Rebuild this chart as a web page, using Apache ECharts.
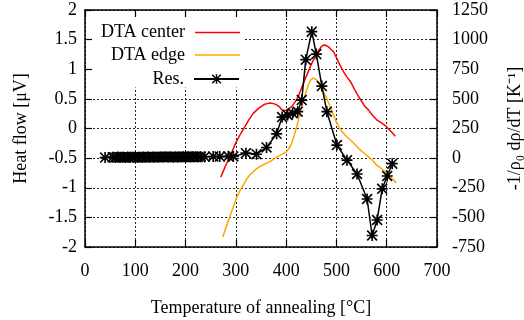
<!DOCTYPE html>
<html>
<head>
<meta charset="utf-8">
<script src="https://cdn.jsdelivr.net/npm/echarts@6/dist/echarts.min.js"></script>
<style>html,body{margin:0;padding:0;background:#fff}#c{width:524px;height:320px}</style>
</head>
<body>
<div id="c"></div>
<script>
// ---- data ----
const xTicks = [0, 100, 200, 300, 400, 500, 600, 700];
const leftTicks = [-2, -1.5, -1, -0.5, 0, 0.5, 1, 1.5, 2];
const rightTicks = [-750, -500, -250, 0, 250, 500, 750, 1000, 1250];

const centerT = [270,275,280,288,295,301,310,318,326,335,345,355,362,368,375,381,386,391,396,400,405,411,418,424,430,437,444,451,458,465,470,475,480,484,490,494,501,507,514,520,528,536,544,550,557,564,572,581,590,597,606,612,617];
const centerV = [-0.82,-0.72,-0.62,-0.48,-0.34,-0.22,-0.08,0.03,0.15,0.26,0.34,0.40,0.42,0.43,0.42,0.40,0.37,0.32,0.30,0.31,0.33,0.37,0.45,0.54,0.67,0.82,0.96,1.10,1.22,1.32,1.38,1.41,1.40,1.38,1.33,1.30,1.18,1.07,0.96,0.88,0.79,0.66,0.54,0.46,0.37,0.31,0.22,0.14,0.09,0.05,-0.03,-0.08,-0.13];

const edgeT = [274,280,288,295,301,308,315,321,328,338,348,358,368,378,388,395,401,406,411,416,421,426,431,437,444,449,454,459,464,469,474,480,487,494,501,507,512,517,527,537,547,557,567,573,580,587,593,600,606,613,619];
const edgeV = [-1.83,-1.68,-1.49,-1.32,-1.18,-1.05,-0.95,-0.86,-0.78,-0.70,-0.64,-0.60,-0.56,-0.50,-0.45,-0.42,-0.39,-0.33,-0.25,-0.12,0.03,0.20,0.37,0.55,0.73,0.82,0.85,0.83,0.79,0.71,0.62,0.52,0.38,0.23,0.09,0.00,-0.06,-0.11,-0.19,-0.27,-0.36,-0.43,-0.50,-0.55,-0.62,-0.66,-0.70,-0.75,-0.81,-0.86,-0.92];

const resT = [40,55,60,65,70,75,80,85,90,95,100,105,110,115,120,125,130,135,140,145,150,155,160,165,170,175,180,185,190,195,200,205,210,215,220,225,230,238,255,268,285,295,320,341,361,381,392,403,413,423,431,439,451,460,471,481,501,521,541,561,571,581,591,601,611];
const resV = [5,8,6,9,7,8,6,9,8,7,9,6,8,10,7,9,8,10,9,8,10,9,11,9,10,8,11,10,9,11,10,12,10,11,12,10,12,12,14,13,15,14,42,33,90,205,346,364,378,392,490,831,1067,878,608,392,110,-17,-134,-345,-653,-522,-259,-151,-47];

const FONT = 'Liberation Serif';
const zip = (a, b) => a.map((t, i) => [t, b[i]]);

const star = 'path://M8.5,0h3v20h-3z M0,8.5h20v3h-20z M2.1,0L20,17.9L17.9,20L0,2.1z M17.9,0L20,2.1L2.1,20L0,17.9z';

const chart = echarts.init(document.getElementById('c'), null, {renderer: 'canvas'});
const txt = {fontFamily: FONT, fontSize: 18, color: '#000'};
const dotted = {type: [2, 2], color: '#222', width: 1};
const blackLine = {color: '#000', width: 1.5};
const plain = v => String(v);

chart.setOption({
  animation: false,
  backgroundColor: '#fff',
  grid: {left: 85, right: 87, top: 10, bottom: 73, containLabel: false, outerBoundsMode: 'none'},
  graphic: [{type: 'rect', z: 1, shape: {x: 86.5, y: 11.5, width: 158, height: 76}, style: {fill: '#fff'}}],
  legend: [
    {data: [{name: 'DTA center', icon: 'rect'}], right: 284, top: 23.5, itemHeight: 1.6},
    {data: [{name: 'DTA edge', icon: 'rect'}], right: 284, top: 46, itemHeight: 1.6},
    {data: ['Res.'], right: 284, top: 70, itemHeight: 12}
  ].map(l => Object.assign({
    orient: 'vertical', align: 'right', itemWidth: 45, padding: 0, itemGap: 0,
    selectedMode: false, z: 5,
    textStyle: Object.assign({padding: [0, 5, 0, 0]}, txt)
  }, l)),
  xAxis: [
    {type: 'value', min: 0, max: 700, interval: 100, position: 'bottom', z: 3,
     axisLine: {show: true, onZero: false, lineStyle: blackLine},
     axisTick: {show: true, inside: true, length: 7, lineStyle: {color: '#000', width: 1.2}},
     axisLabel: Object.assign({margin: 15, formatter: plain}, txt),
     splitLine: {show: false},
     name: 'Temperature of annealing [°C]', nameLocation: 'middle', nameGap: 52,
     nameTextStyle: txt},
    {type: 'value', min: 0, max: 700, interval: 100, position: 'top', z: 3,
     axisLine: {show: true, onZero: false, lineStyle: blackLine},
     axisTick: {show: true, inside: true, length: 7, lineStyle: {color: '#000', width: 1.2}},
     axisLabel: {show: false}, splitLine: {show: false}},
    {type: 'value', min: 0, max: 700, interval: 100, position: 'bottom', z: 0,
     axisLine: {show: false, onZero: false}, axisTick: {show: false}, axisLabel: {show: false},
     splitLine: {show: true, lineStyle: dotted}}
  ],
  yAxis: [
    {type: 'value', min: -2, max: 2, interval: 0.5, position: 'left', z: 3,
     axisLine: {show: true, onZero: false, lineStyle: blackLine},
     axisTick: {show: true, inside: true, length: 7, lineStyle: {color: '#000', width: 1.2}},
     axisLabel: Object.assign({margin: 8, formatter: plain}, txt),
     splitLine: {show: false},
     name: 'Heat flow [μV]', nameLocation: 'middle', nameGap: 55, nameRotate: 90,
     nameTextStyle: txt},
    {type: 'value', min: -750, max: 1250, interval: 250, position: 'right', z: 3,
     axisLine: {show: true, onZero: false, lineStyle: blackLine},
     axisTick: {show: true, inside: true, length: 7, lineStyle: {color: '#000', width: 1.2}},
     axisLabel: Object.assign({margin: 15, formatter: plain}, txt),
     splitLine: {show: false},
     name: '-1/ρ₀ dρ/dT [K⁻¹]', nameLocation: 'middle', nameGap: 69, nameRotate: 90,
     nameTextStyle: txt},
    {type: 'value', min: -2, max: 2, interval: 0.5, position: 'left', z: 0,
     axisLine: {show: false, onZero: false}, axisTick: {show: false}, axisLabel: {show: false},
     splitLine: {show: true, lineStyle: dotted}}
  ],
  series: [
    {name: 'DTA center', type: 'line', xAxisIndex: 0, yAxisIndex: 0, data: zip(centerT, centerV),
     showSymbol: false, symbol: 'none', color: '#ff0000', lineStyle: {width: 1.5, color: '#ff0000'}},
    {name: 'DTA edge', type: 'line', xAxisIndex: 0, yAxisIndex: 0, data: zip(edgeT, edgeV),
     showSymbol: false, symbol: 'none', color: '#ffa500', lineStyle: {width: 1.5, color: '#ffa500'}},
    {name: 'Res.', type: 'line', xAxisIndex: 0, yAxisIndex: 1, data: zip(resT, resV),
     symbol: star, symbolSize: 11, showSymbol: true, color: '#000',
     itemStyle: {color: '#000'}, lineStyle: {width: 1.5, color: '#000'}}
  ]
});
</script>
</body>
</html>
